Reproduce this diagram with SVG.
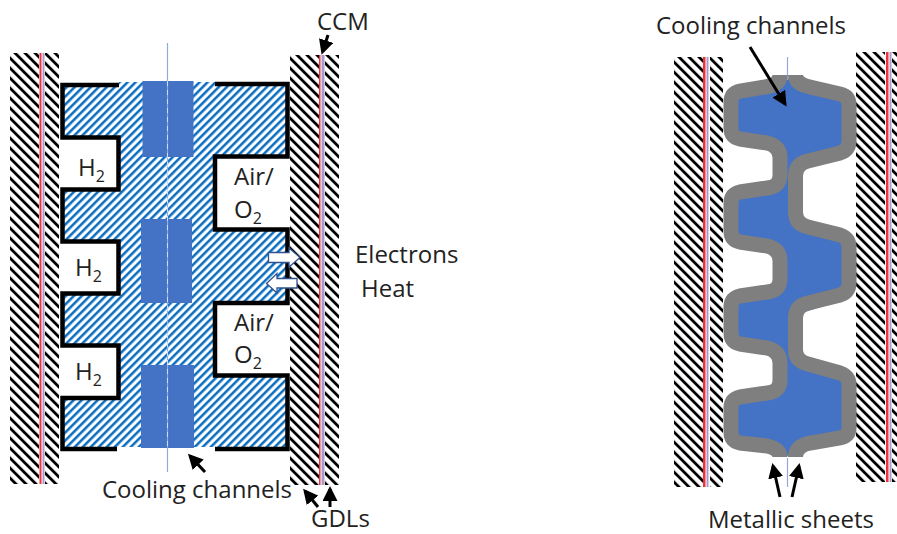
<svg xmlns="http://www.w3.org/2000/svg" width="897" height="534" viewBox="0 0 897 534">
<style>
text{font-family:"Open Sans","Noto Sans","Liberation Sans",sans-serif;fill:#222;font-size:24px}
.sub{font-size:16px}
.bk{fill:url(#hb)}
.plate{fill:none;stroke:#000;stroke-width:4.5;stroke-linejoin:miter}
.ch{fill:#4472c4}
.sheet{fill:none;stroke:#7f7f7f;stroke-width:15}
.arr{fill:none;stroke:#000;stroke-width:3;marker-end:url(#ah)}
.blk{fill:#fff;stroke:#2f528f;stroke-width:1.3}
.red{fill:#f0303a}
.pur{fill:#a99bc9}
.thin{stroke:#8faadc;stroke-width:1.2;fill:none}
</style>
<defs>
<pattern id="hb" width="7.071" height="7.071" patternUnits="userSpaceOnUse" patternTransform="rotate(-45)"><rect width="7.071" height="7.071" fill="#fff"/><rect width="2.8" height="7.071" fill="#000"/></pattern>
<pattern id="hu" width="5.657" height="5.657" patternUnits="userSpaceOnUse" patternTransform="rotate(45)"><rect width="5.657" height="5.657" fill="#fff"/><rect width="2.5" height="5.657" fill="#0a6fc2"/></pattern>
<marker id="ah" markerWidth="5" markerHeight="5" refX="4" refY="2.5" orient="auto"><path d="M0 0L5 2.5L0 5Z" fill="#000"/></marker>
</defs>

<g id="left-gdl-a"><rect class="bk" x="10" y="53" width="29" height="431"/><rect class="bk" x="45" y="53" width="14" height="431"/><rect class="red" x="39.500" y="53" width="2" height="431"/><rect class="pur" x="42.500" y="53" width="2" height="431"/></g>
<g id="right-gdl-a"><rect class="bk" x="290" y="55" width="29" height="430"/><rect class="bk" x="325" y="55" width="14" height="430"/><rect class="red" x="319" y="55" width="1.500" height="430"/><rect class="pur" x="321.500" y="55" width="3" height="430"/></g>

<g id="coolant-zone">
<path fill="url(#hu)" d="M63 85H119V82H215V84H287V156H215V230H287V303H215V376H287V449H215V447H119V449H63V398H119V345H63V293H119V241H63V189H119V137H63Z"/>
<rect class="ch" x="142.500" y="81" width="51" height="76"/>
<rect class="ch" x="141" y="219" width="51" height="84"/>
<rect class="ch" x="141" y="365" width="53" height="83"/>
</g>
<g id="midline"><path class="thin" d="M167.500 43V472"/><path d="M167.500 81V448" fill="none" stroke="#cfdcf2" stroke-width="1" stroke-dasharray="5 4"/></g>
<g id="anode-plate"><path class="plate" d="M119 85H62.500V137.500H118.500V189.500H62.500V241.500H118.500V293.500H62.500V345.500H118.500V398H62.500V449H117"/></g>
<g id="cathode-plate"><path class="plate" d="M215 84H287.500V156.500H215V229.500H287.500V303H215V375.500H287.500V449H215"/></g>

<g id="flow-arrows">
<path class="blk" d="M268.500 252.500H289V248L300 257.500L289 267V262.500H268.500Z"/>
<path class="blk" d="M297 278.500H277V273.500L266.500 283.500L277 293V288H297Z"/>
</g>

<g id="right-gdl-left"><rect class="bk" x="674" y="57" width="29" height="430"/><rect class="bk" x="710" y="57" width="13" height="430"/><rect class="red" x="703" y="57" width="2.500" height="430"/><rect class="pur" x="706.500" y="57" width="2" height="430"/></g>
<g id="right-gdl-right"><rect class="bk" x="856" y="52" width="29" height="430"/><rect class="bk" x="892" y="52" width="5" height="430"/><rect class="red" x="886" y="52" width="2.500" height="430"/><rect class="pur" x="889.500" y="52" width="2" height="430"/></g>

<g id="channel"><path class="ch" d="M787 78L735 90L731 140L780 146L780 190L731 190L731 243L780 250L780 290L731 295L731 343L780 352L780 392L731 397L731 443L787 456L849 440L849 380L795.500 360L795.500 315L849 298L849 238L795.500 222L795.500 172L849 155L849 95Z"/></g>
<g id="sheet-thin"><path class="thin" d="M787.500 57V80M787.500 458V487"/></g>
<g id="metal-sheet-left"><path class="sheet" d="M780 75Q780 85 765 87L740 91Q731 93 731 102V128Q731 137 740 139L767 143Q780 146 780 158V175Q780 187 767 188L740 192Q731 194 731 203V231Q731 240 740 242L767 246Q780 249 780 261V279Q780 291 767 292L740 296Q731 298 731 307V333Q731 342 740 344L767 348Q780 351 780 363V380Q780 392 767 393L740 397Q731 399 731 408V432Q731 441 740 443L767 446Q780 449 780 457"/></g>
<g id="metal-sheet-right"><path class="sheet" d="M795.500 75Q795.500 84 810 87L840 94Q849 96 849 105V141Q849 150 840 153L808 161Q795.500 164 795.500 176V212Q795.500 224 808 227L840 235Q849 238 849 247V283Q849 292 840 295L808 303Q795.500 306 795.500 318V350Q795.500 361 808 364L840 373Q849 376 849 385V428Q849 436 840 438L810 443Q795.500 446 795.500 457"/></g>

<g id="connectors">
<path class="arr" d="M328 35L322.500 52"/>
<path class="arr" d="M205 472L190 456"/>
<path class="arr" d="M318 507L305 491"/>
<path class="arr" d="M330 507V489"/>
<path class="arr" d="M750 47L785 104"/>
<path class="arr" d="M780 497L773 466"/>
<path class="arr" d="M792 497L799 466"/>
</g>

<g id="labels">
<text x="317" y="30">CCM</text>
<text x="355" y="263">Electrons</text>
<text x="361" y="297">Heat</text>
<text x="78" y="176">H<tspan class="sub" dy="6">2</tspan></text>
<text x="75" y="276">H<tspan class="sub" dy="6">2</tspan></text>
<text x="75" y="380">H<tspan class="sub" dy="6">2</tspan></text>
<text x="234" y="185">Air/</text>
<text x="234" y="218">O<tspan class="sub" dy="6">2</tspan></text>
<text x="234" y="331">Air/</text>
<text x="234" y="363">O<tspan class="sub" dy="6">2</tspan></text>
<text x="102" y="498">Cooling channels</text>
<text x="311" y="527">GDLs</text>
<text x="656" y="34">Cooling channels</text>
<text x="708" y="528">Metallic sheets</text>
</g>
</svg>
